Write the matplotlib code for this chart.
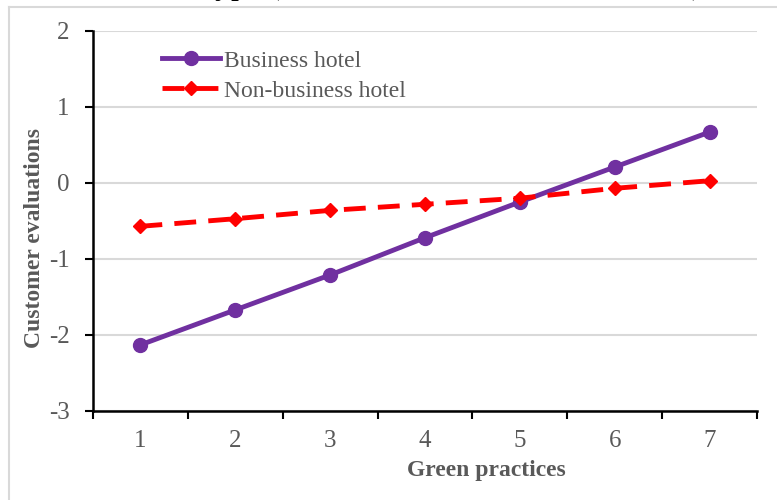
import matplotlib
matplotlib.use("Agg")
import matplotlib.pyplot as plt
from matplotlib.lines import Line2D

plt.rcParams['font.family'] = ['Liberation Serif', 'DejaVu Serif']

# данные
practices = [1, 2, 3, 4, 5, 6, 7]
business = [-2.13, -1.67, -1.21, -0.72, -0.25, 0.21, 0.67]
non_business = [-0.57, -0.47, -0.36, -0.28, -0.20, -0.07, 0.03]
y_ticks = [-3, -2, -1, 0, 1, 2]

W, H = 777, 500
fig = plt.figure(figsize=(W / 100, H / 100), dpi=100)
ax = fig.add_axes([93 / W, 1 - 411 / H, (757 - 93) / W, (411 - 31) / H])

gray = '#595959'

ax.plot(practices, business, color='#7030A0', lw=3.5, marker='o', ms=10,
        label='Business hotel', zorder=3)
ax.plot(practices, non_business, color='#FF0000', lw=3.5, marker='D', ms=7.5,
        dashes=(4.5, 2.5), label='Non-business hotel', zorder=3)

ax.set_xlim(0.5, 7.5)
ax.set_ylim(-3, 2)
ax.set_yticks(y_ticks)
ax.set_yticklabels([str(v) for v in y_ticks])
ax.yaxis.grid(True, color='#d9d9d9', lw=1.5)
ax.set_axisbelow(True)

# деления на границах категорий, подписи по центрам
ax.set_xticks([p - 0.5 for p in practices] + [7.5])
ax.set_xticklabels([])
ax.set_xticks(practices, minor=True)
ax.set_xticklabels([str(p) for p in practices], minor=True)
ax.tick_params(axis='x', which='major', length=6, width=1.5, color='black', direction='out')
ax.tick_params(axis='x', which='minor', length=0, pad=14, labelsize=18, labelcolor=gray)
ax.tick_params(axis='y', length=6, width=1.5, direction='out', labelsize=18,
               labelcolor=gray, pad=11)

for s in ['top', 'right']:
    ax.spines[s].set_visible(False)
for s in ['left', 'bottom']:
    ax.spines[s].set_linewidth(1.8)
    ax.spines[s].set_color('black')

ax.set_xlabel('Green practices', fontsize=17, fontweight='bold', color=gray)
ax.xaxis.set_label_coords(0.593, -0.13)
ax.set_ylabel('Customer evaluations', fontsize=17, fontweight='bold', color=gray)
ax.yaxis.set_label_coords(-0.072, 0.455)

ax.legend(loc='upper left', bbox_to_anchor=((162 - 93) / 664, (411 - 50) / 380),
          frameon=False, fontsize=17, borderpad=0, borderaxespad=0,
          handlelength=2.45, handletextpad=0.18, labelspacing=0.36, labelcolor=gray)

# рамка и обрезанный заголовок
fig.add_artist(Line2D([9 / W, 1], [1 - 7 / H, 1 - 7 / H], color='#d9d9d9', lw=1.5))
fig.add_artist(Line2D([9 / W, 9 / W], [0, 1 - 7 / H], color='#d9d9d9', lw=1.5))
fig.text(127 / W, 1 + 6 / H, 'Hotel type (business vs. non-business hotels)',
         fontsize=23, color='black', va='baseline', ha='left')

fig.savefig('out.png', dpi=100)
